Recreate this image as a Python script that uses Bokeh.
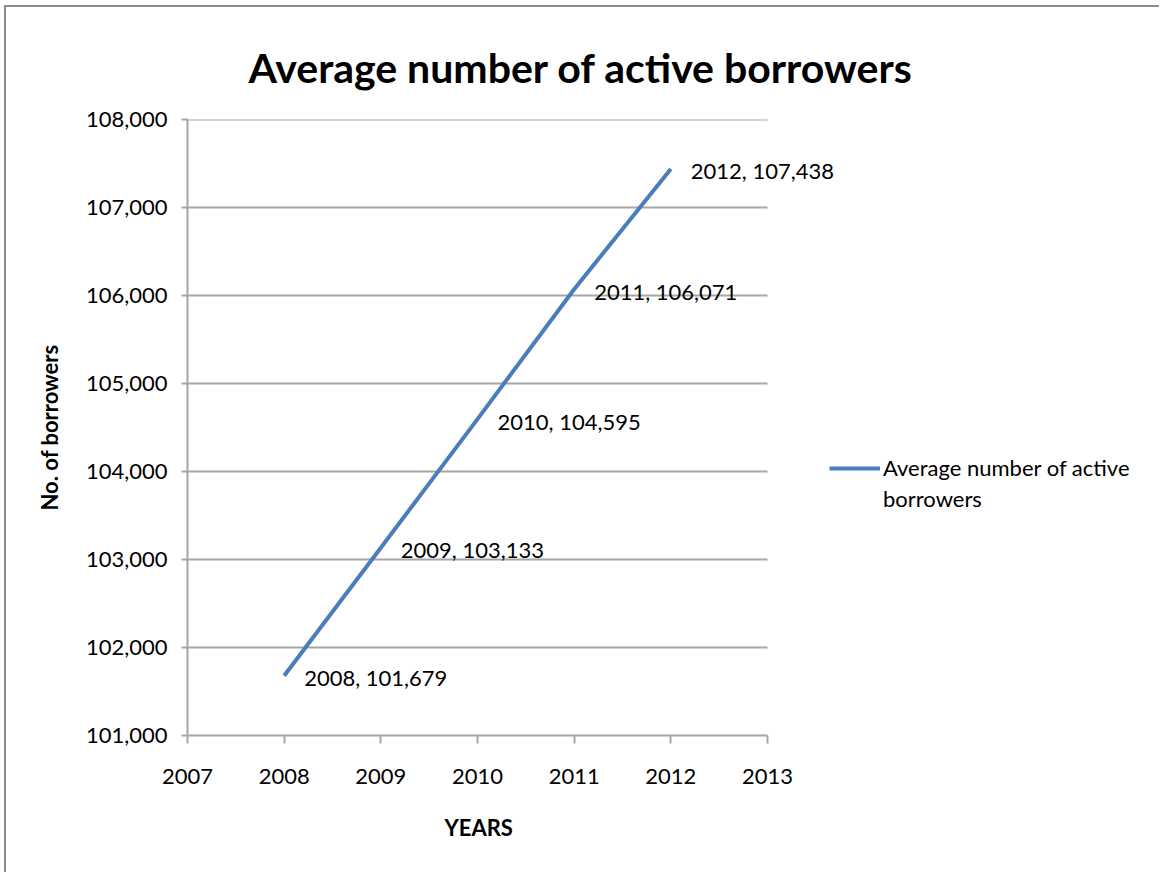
from bokeh.plotting import figure
from bokeh.models import (ColumnDataSource, LabelSet, Legend, LegendItem, Title,
                          FixedTicker, Range1d, CustomJSTickFormatter)
from bokeh.core.properties import value
from bokeh.embed import file_html
from bokeh.resources import INLINE

years = [2008, 2009, 2010, 2011, 2012]
borrowers = [101679, 103133, 104595, 106071, 107438]
point_labels = [f"{y}, {v:,}" for y, v in zip(years, borrowers)]
x_ticks = [2007, 2008, 2009, 2010, 2011, 2012, 2013]
y_ticks = [101000, 102000, 103000, 104000, 105000, 106000, 107000, 108000]
legend_lines = ["Average number of active", "borrowers"]

FONT = "Lato"
GRAY = "#a6a6a6"

# layout (pixels)
FIG_W, FIG_H = 1155, 867
LEFT, TOP, BOTTOM = 181, 112, 139
AXIS_PX = 580  # width of the 2007-2013 axis
frame_w = FIG_W - LEFT
x_lo, x_hi = x_ticks[0], x_ticks[-1]
x_end = x_lo + (x_hi - x_lo) * frame_w / AXIS_PX

p = figure(width=FIG_W, height=FIG_H, output_backend="svg", toolbar_location=None,
           x_range=Range1d(x_lo, x_end), y_range=Range1d(y_ticks[0], y_ticks[-1]),
           min_border_left=LEFT, min_border_right=0, min_border_top=TOP,
           min_border_bottom=BOTTOM)
p.margin = (5, 0, 0, 4)
p.styles = {"border-top": "2px solid #8c8c8c", "border-left": "2px solid #8c8c8c"}
p.outline_line_color = None
p.background_fill_color = "white"
p.border_fill_color = "white"

p.title.text = "Average number of active borrowers"
p.title.text_font = FONT
p.title.text_font_style = "bold"
p.title.text_font_size = "41px"
p.title.align = "left"
p.title.offset = 61
p.title.standoff = 56
p.title.text_color = "black"

# horizontal gridlines limited to the axis extent
p.segment(x0=[x_lo] * (len(y_ticks) - 1), x1=[x_hi] * (len(y_ticks) - 1),
          y0=y_ticks[1:], y1=y_ticks[1:], line_color=GRAY, line_width=2)

src = ColumnDataSource(dict(x=years, y=borrowers, lab=point_labels))
r = p.line("x", "y", source=src, line_width=4, line_color="#4A7EBB")
r_blank = p.line(x=[], y=[], line_alpha=0)

p.add_layout(LabelSet(x="x", y="y", text="lab", source=src, x_offset=20, y_offset=-2,
                      text_font=value(FONT), text_font_size="22px", text_color="black",
                      text_baseline="middle", text_align="left"))

# axes
p.xaxis.ticker = FixedTicker(ticks=x_ticks)
p.yaxis.ticker = FixedTicker(ticks=y_ticks)
p.xaxis.bounds = (x_lo, x_hi)
p.yaxis.formatter = CustomJSTickFormatter(code="return tick.toLocaleString('en-US');")
p.xaxis.formatter = CustomJSTickFormatter(code="return String(tick);")
for ax in (p.xaxis, p.yaxis):
    ax.axis_line_color = GRAY
    ax.axis_line_width = 2
    ax.major_tick_line_color = GRAY
    ax.major_tick_line_width = 2
    ax.minor_tick_line_color = None
    ax.major_tick_in = 0
    ax.major_label_text_font = FONT
    ax.major_label_text_font_size = "22px"
    ax.major_label_text_color = "black"
    ax.axis_label_text_font = FONT
    ax.axis_label_text_font_style = "bold"
    ax.axis_label_text_font_size = "22px"
    ax.axis_label_text_color = "black"
p.xaxis.major_tick_out = 8
p.yaxis.major_tick_out = 6
p.xaxis.major_label_standoff = 25
p.yaxis.major_label_standoff = 14
p.yaxis.axis_label = "No. of borrowers"
p.yaxis.axis_label_standoff = 20

# x-axis title centred under the 2007-2013 axis (not the whole frame)
p.add_layout(Title(text="YEARS", align="left", offset=257, standoff=50,
                   text_font=FONT, text_font_style="bold", text_font_size="22px",
                   text_color="black"), "below")

p.xgrid.grid_line_color = None
p.ygrid.grid_line_color = None

legend = Legend(items=[LegendItem(label=legend_lines[0], renderers=[r]),
                       LegendItem(label=legend_lines[1], renderers=[r_blank])],
                location=(642, 223), orientation="vertical")
legend.padding = 0
legend.margin = 0
legend.spacing = 4
legend.border_line_color = None
legend.background_fill_alpha = 0
legend.glyph_width = 51
legend.label_standoff = 3
legend.label_text_font = FONT
legend.label_text_font_size = "22px"
legend.label_text_color = "black"
p.add_layout(legend, "center")

open("out.html", "w").write(file_html(p, INLINE))
